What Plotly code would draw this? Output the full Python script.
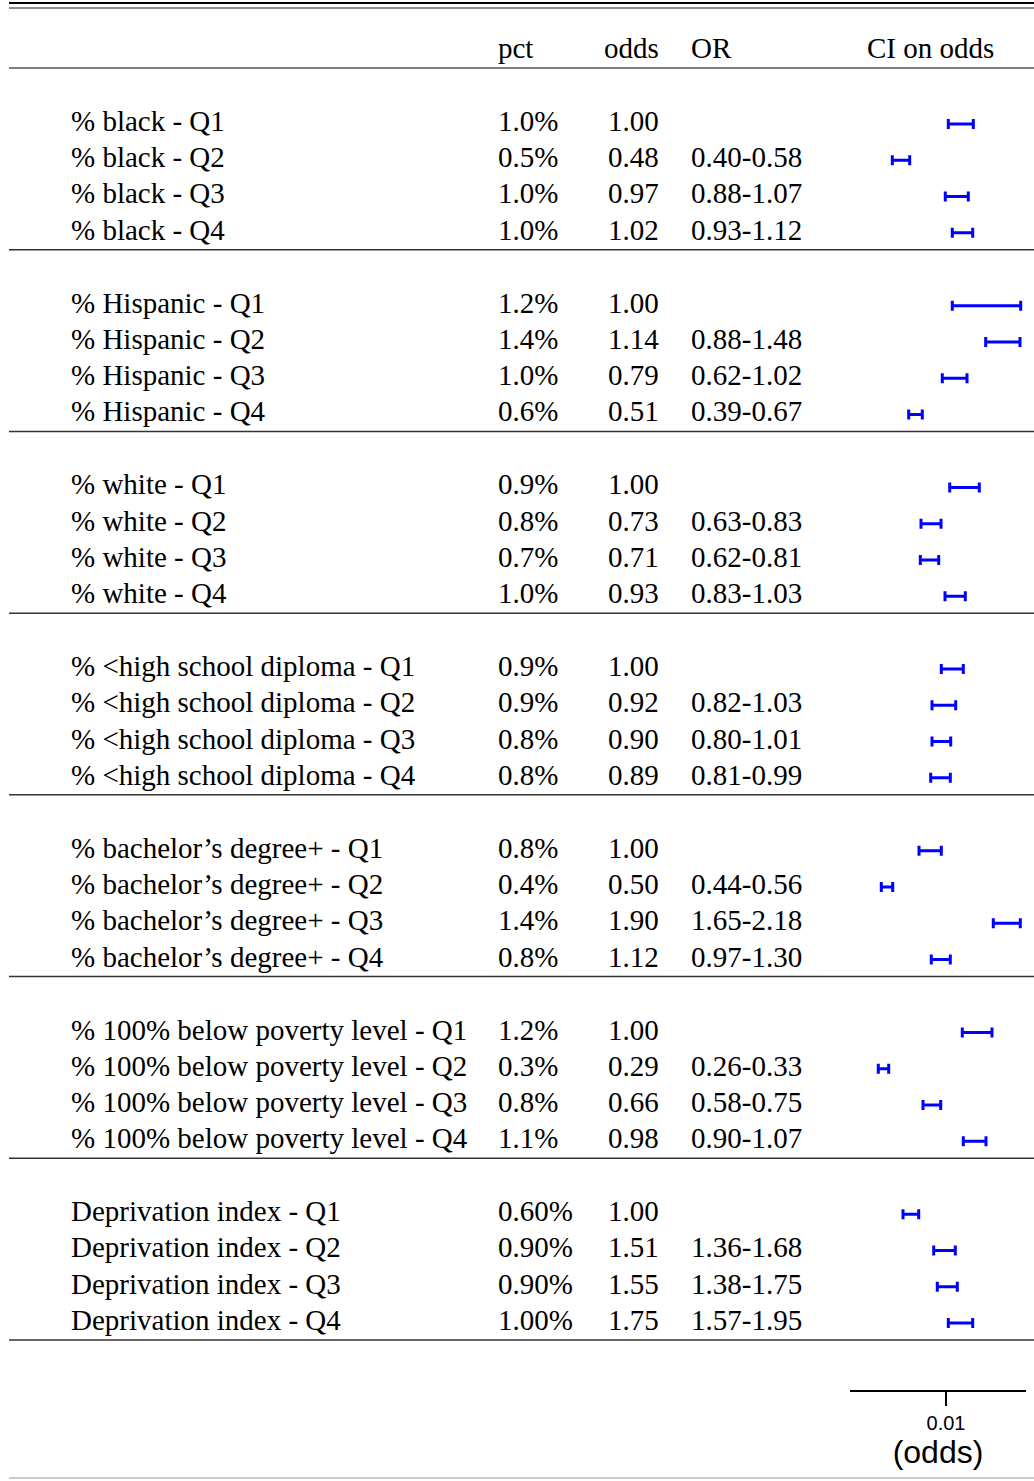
import plotly.graph_objects as go

# ---------------- data ----------------
groups = ["% black", "% Hispanic", "% white", "% &lt;high school diploma",
          "% bachelor’s degree+", "% 100% below poverty level", "Deprivation index"]
quartiles = ["Q1", "Q2", "Q3", "Q4"]

pct = [
    ["1.0%", "0.5%", "1.0%", "1.0%"],
    ["1.2%", "1.4%", "1.0%", "0.6%"],
    ["0.9%", "0.8%", "0.7%", "1.0%"],
    ["0.9%", "0.9%", "0.8%", "0.8%"],
    ["0.8%", "0.4%", "1.4%", "0.8%"],
    ["1.2%", "0.3%", "0.8%", "1.1%"],
    ["0.60%", "0.90%", "0.90%", "1.00%"],
]
odds = [
    ["1.00", "0.48", "0.97", "1.02"],
    ["1.00", "1.14", "0.79", "0.51"],
    ["1.00", "0.73", "0.71", "0.93"],
    ["1.00", "0.92", "0.90", "0.89"],
    ["1.00", "0.50", "1.90", "1.12"],
    ["1.00", "0.29", "0.66", "0.98"],
    ["1.00", "1.51", "1.55", "1.75"],
]
or_ci = [
    ["", "0.40-0.58", "0.88-1.07", "0.93-1.12"],
    ["", "0.88-1.48", "0.62-1.02", "0.39-0.67"],
    ["", "0.63-0.83", "0.62-0.81", "0.83-1.03"],
    ["", "0.82-1.03", "0.80-1.01", "0.81-0.99"],
    ["", "0.44-0.56", "1.65-2.18", "0.97-1.30"],
    ["", "0.26-0.33", "0.58-0.75", "0.90-1.07"],
    ["", "1.36-1.68", "1.38-1.75", "1.57-1.95"],
]
# CI on odds (lower, upper)
ci_lower = [
    [0.01023, 0.00463, 0.00993, 0.01063],
    [0.01063, 0.01397, 0.00963, 0.00627],
    [0.01037, 0.00750, 0.00743, 0.00990],
    [0.00953, 0.00860, 0.00860, 0.00847],
    [0.00730, 0.00353, 0.01473, 0.00853],
    [0.01163, 0.00323, 0.00770, 0.01173],
    [0.00570, 0.00877, 0.00913, 0.01023],
]
ci_upper = [
    [0.01273, 0.00637, 0.01223, 0.01267],
    [0.01747, 0.01740, 0.01210, 0.00763],
    [0.01333, 0.00950, 0.00927, 0.01193],
    [0.01173, 0.01097, 0.01047, 0.01043],
    [0.00953, 0.00467, 0.01743, 0.01043],
    [0.01460, 0.00427, 0.00947, 0.01400],
    [0.00727, 0.01093, 0.01113, 0.01267],
]
headers = ["pct", "odds", "OR", "CI on odds"]
x_ticks = [0.01]
x_ticktext = ["0.01"]
x_title = "(odds)"

# ---------------- layout helpers ----------------
W, H = 1034, 1481
AXIS_Y = 1390
SERIF = "Liberation Serif, Times New Roman, serif"
SANS = "Liberation Sans, Arial, sans-serif"
FS = 29

def py(y):
    return 1 - y / H

def px(x):
    return x / W

fig = go.Figure()
annotations = []
shapes = []

def txt(x, y, s, anchor="left", size=FS):
    if anchor == "left":
        x -= 2
    elif anchor == "right":
        x += 2
    annotations.append(dict(x=px(x), y=py(y), xref="paper", yref="paper", text=s,
                            showarrow=False, xanchor=anchor, yanchor="middle",
                            font=dict(family=SERIF, size=size, color="black")))

def hline(y, color="#222", width=1.5):
    shapes.append(dict(type="line", xref="paper", yref="paper", x0=px(9), x1=1,
                       y0=py(y), y1=py(y), line=dict(color=color, width=width)))

# header
HEADER_Y = 48
txt(498, HEADER_Y, headers[0])
txt(659, HEADER_Y, headers[1], anchor="right")
txt(691, HEADER_Y, headers[2])
txt(930, HEADER_Y, headers[3], anchor="center")

hline(3, "#000", 2)
hline(8, "#666", 1.5)
hline(68, "#555", 1.5)

GROUP_STEP = 181.7
ROW_STEP = 36.25
FIRST = 121

bar_x, bar_y, err_p, err_m = [], [], [], []
for g, name in enumerate(groups):
    for r, q in enumerate(quartiles):
        ty = FIRST + g * GROUP_STEP + r * ROW_STEP
        txt(71, ty, f"{name} - {q}")
        txt(498, ty, pct[g][r])
        txt(659, ty, odds[g][r], anchor="right")
        if or_ci[g][r]:
            txt(691, ty, or_ci[g][r])
        lo, hi = ci_lower[g][r], ci_upper[g][r]
        mid = (lo + hi) / 2
        bar_x.append(mid)
        bar_y.append(ty + 3)
        err_p.append(hi - mid)
        err_m.append(mid - lo)
    hline(FIRST + g * GROUP_STEP + 3 * ROW_STEP + 20, "#333", 1.5)

hline(1478, "#bbb", 1.5)

fig.add_trace(go.Scatter(
    x=bar_x, y=bar_y, mode="markers",
    marker=dict(size=1, color="rgba(0,0,0,0)"),
    error_x=dict(type="data", symmetric=False, array=err_p, arrayminus=err_m,
                 color="#0000ff", thickness=3, width=5),
    showlegend=False, hoverinfo="skip", cliponaxis=False,
))

fig.update_layout(
    width=W, height=H,
    margin=dict(l=0, r=0, t=0, b=0),
    paper_bgcolor="white", plot_bgcolor="white",
    annotations=annotations, shapes=shapes,
    xaxis=dict(domain=[850 / W, 1026 / W], range=[0.0004, 0.018],
               tickvals=x_ticks, ticktext=x_ticktext, ticks="outside",
               ticklen=14, tickwidth=2, tickcolor="black",
               showline=True, linewidth=2, linecolor="black",
               showgrid=False, zeroline=False,
               tickfont=dict(family=SANS, size=20, color="black"),
               title=dict(text=x_title, font=dict(family=SANS, size=32, color="black"),
                          standoff=2)),
    yaxis=dict(domain=[(H - AXIS_Y) / H, 1], range=[AXIS_Y, 0], visible=False,
               showgrid=False, zeroline=False),
)

fig.write_html("out.html", config={"displayModeBar": False},
               post_script="document.body.style.margin='0';")
